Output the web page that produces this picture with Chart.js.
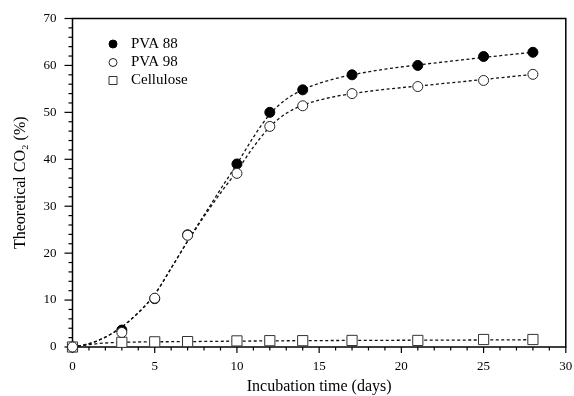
<!DOCTYPE html>
<html>
<head>
<meta charset="utf-8">
<script src="https://cdn.jsdelivr.net/npm/chart.js@4.4.1/dist/chart.umd.min.js"></script>
<style>
  html, body { margin: 0; padding: 0; background: #fff; }
  #wrap { width: 574px; height: 396px; }
</style>
</head>
<body>
<div id="wrap"><canvas id="chart" width="574" height="396"></canvas></div>
<script>
// measured points (days, % theoretical CO2)
const days = [0, 3, 5, 7, 10, 12, 14, 17, 21, 25, 28];
const pva88 = [0, 3.6, 10.3, 23.9, 39.0, 50.0, 54.8, 58.0, 60.0, 61.9, 62.8];
const pva98 = [0, 3.1, 10.4, 23.8, 37.0, 47.0, 51.4, 54.0, 55.5, 56.8, 58.1];
const cellulose = [0, 1.0, 1.1, 1.15, 1.3, 1.35, 1.35, 1.4, 1.4, 1.6, 1.6];

// dashed fit curves
const fitDays = [0, 1, 2, 3, 4, 5, 6, 7, 8, 9, 10, 11, 12, 13, 14, 15, 16, 17, 19, 21, 23, 25, 28];
const fit88 = [0, 0.7, 2.1, 4.3, 7.3, 11.2, 16.8, 22.6, 28.1, 33.6, 39.0, 44.7, 49.6, 52.8, 54.8, 56.2, 57.2, 58.0, 59.2, 60.1, 60.9, 61.7, 62.8];
const fit98 = [0, 0.7, 2.1, 4.3, 7.3, 11.2, 16.8, 22.5, 27.8, 32.8, 37.5, 42.6, 46.9, 49.8, 51.5, 52.6, 53.4, 54.0, 54.9, 55.6, 56.3, 57.0, 58.1];
const fitCellDays = [0, 1, 2, 3, 5, 7, 10, 14, 17, 21, 25, 28];
const fitCell = [0, 0.5, 0.85, 1.0, 1.1, 1.15, 1.25, 1.35, 1.4, 1.45, 1.5, 1.55];

// labelled ticks
const xLabels = [0, 5, 10, 15, 20, 25, 30];
const yLabels = [0, 10, 20, 30, 40, 50, 60, 70];

const serif = '"Liberation Serif", "Times New Roman", serif';
const toXY = (xs, ys) => xs.map((d, i) => ({ x: d, y: ys[i] }));

const fitLine = (data) => ({
  data,
  showLine: true,
  pointRadius: 0,
  borderColor: '#111',
  borderWidth: 1.3,
  borderDash: [3, 2.5],
  cubicInterpolationMode: 'monotone',
  clip: false,
  order: 10,
});

// frame + major/minor tick marks
const framePlugin = {
  id: 'frame',
  beforeDatasetsDraw(chart) {
    const { ctx, chartArea: a, scales: { x, y } } = chart;
    ctx.save();
    ctx.strokeStyle = '#000';
    ctx.lineWidth = 1.5;
    ctx.strokeRect(a.left, a.top, a.right - a.left, a.bottom - a.top);
    ctx.lineWidth = 1.2;
    x.ticks.forEach(t => {
      const px = x.getPixelForValue(t.value);
      const len = xLabels.includes(t.value) ? 6 : 3.5;
      ctx.beginPath();
      ctx.moveTo(px, a.bottom);
      ctx.lineTo(px, a.bottom + len);
      ctx.stroke();
    });
    y.ticks.forEach(t => {
      const py = y.getPixelForValue(t.value);
      const len = yLabels.includes(t.value) ? 8 : 4;
      ctx.beginPath();
      ctx.moveTo(a.left, py);
      ctx.lineTo(a.left - len, py);
      ctx.stroke();
    });
    ctx.restore();
  }
};

// legend in the top left corner of the plot
const legendPlugin = {
  id: 'innerLegend',
  afterDraw(chart) {
    const { ctx } = chart;
    const items = chart.data.datasets.filter(d => d.label);
    const rows = [44, 62.5, 80.5];
    ctx.save();
    items.forEach((d, i) => {
      const cx = 113, cy = rows[i];
      ctx.lineWidth = d.pointBorderWidth;
      ctx.strokeStyle = d.pointBorderColor;
      ctx.fillStyle = d.pointBackgroundColor;
      ctx.beginPath();
      if (d.pointStyle === 'rect') {
        ctx.rect(cx - 4, cy - 4, 8, 8);
      } else {
        ctx.arc(cx, cy, 4, 0, Math.PI * 2);
      }
      ctx.fill();
      ctx.stroke();
      ctx.fillStyle = '#000';
      ctx.font = '15px ' + serif;
      ctx.textAlign = 'left';
      ctx.textBaseline = 'middle';
      ctx.fillText(d.label, 131, cy);
    });
    ctx.restore();
  }
};

new Chart(document.getElementById('chart'), {
  type: 'line',
  data: {
    datasets: [
      {
        label: 'PVA 88',
        data: toXY(days, pva88),
        showLine: false,
        pointStyle: 'circle',
        pointRadius: 5,
        pointBackgroundColor: '#000',
        pointBorderColor: '#000',
        pointBorderWidth: 1,
        clip: false,
        order: 3,
      },
      {
        label: 'PVA 98',
        data: toXY(days, pva98),
        showLine: false,
        pointStyle: 'circle',
        pointRadius: 5,
        pointBackgroundColor: '#fff',
        pointBorderColor: '#222',
        pointBorderWidth: 1,
        clip: false,
        order: 1,
      },
      {
        label: 'Cellulose',
        data: toXY(days, cellulose),
        showLine: false,
        pointStyle: 'rect',
        pointRadius: 7.2,
        pointBackgroundColor: '#fff',
        pointBorderColor: '#333',
        pointBorderWidth: 1,
        clip: false,
        order: 2,
      },
      fitLine(toXY(fitDays, fit88)),
      fitLine(toXY(fitDays, fit98)),
      fitLine(toXY(fitCellDays, fitCell)),
    ],
  },
  options: {
    responsive: false,
    animation: false,
    events: [],
    layout: { padding: { top: 18.5, right: 2, left: 0, bottom: 0 } },
    plugins: {
      legend: { display: false },
      tooltip: { enabled: false },
    },
    scales: {
      x: {
        type: 'linear',
        min: 0,
        max: 30,
        afterFit: s => { s.height = 49; s.paddingLeft = 0; s.paddingRight = 0; },
        grid: { display: false, drawTicks: false },
        border: { display: false },
        ticks: {
          stepSize: 1,
          autoSkip: false,
          maxRotation: 0,
          padding: 12,
          color: '#000',
          font: { family: serif, size: 13 },
          callback: v => (xLabels.includes(v) ? String(v) : ''),
        },
        title: {
          display: true,
          text: 'Incubation time (days)',
          color: '#000',
          font: { family: serif, size: 16 },
          padding: { top: 0, bottom: 0 },
        },
      },
      y: {
        type: 'linear',
        min: 0,
        max: 70,
        afterFit: s => { s.width = 72.5; s.paddingTop = 0; s.paddingBottom = 0; },
        grid: { display: false, drawTicks: false },
        border: { display: false },
        ticks: {
          stepSize: 2,
          autoSkip: false,
          padding: 16,
          color: '#000',
          font: { family: serif, size: 13 },
          callback: v => (yLabels.includes(v) ? String(v) : ''),
        },
        title: {
          display: true,
          text: 'Theoretical CO₂ (%)',
          color: '#000',
          font: { family: serif, size: 16 },
          padding: { top: 11, bottom: 0 },
        },
      },
    },
  },
  plugins: [framePlugin, legendPlugin],
});
</script>
</body>
</html>
